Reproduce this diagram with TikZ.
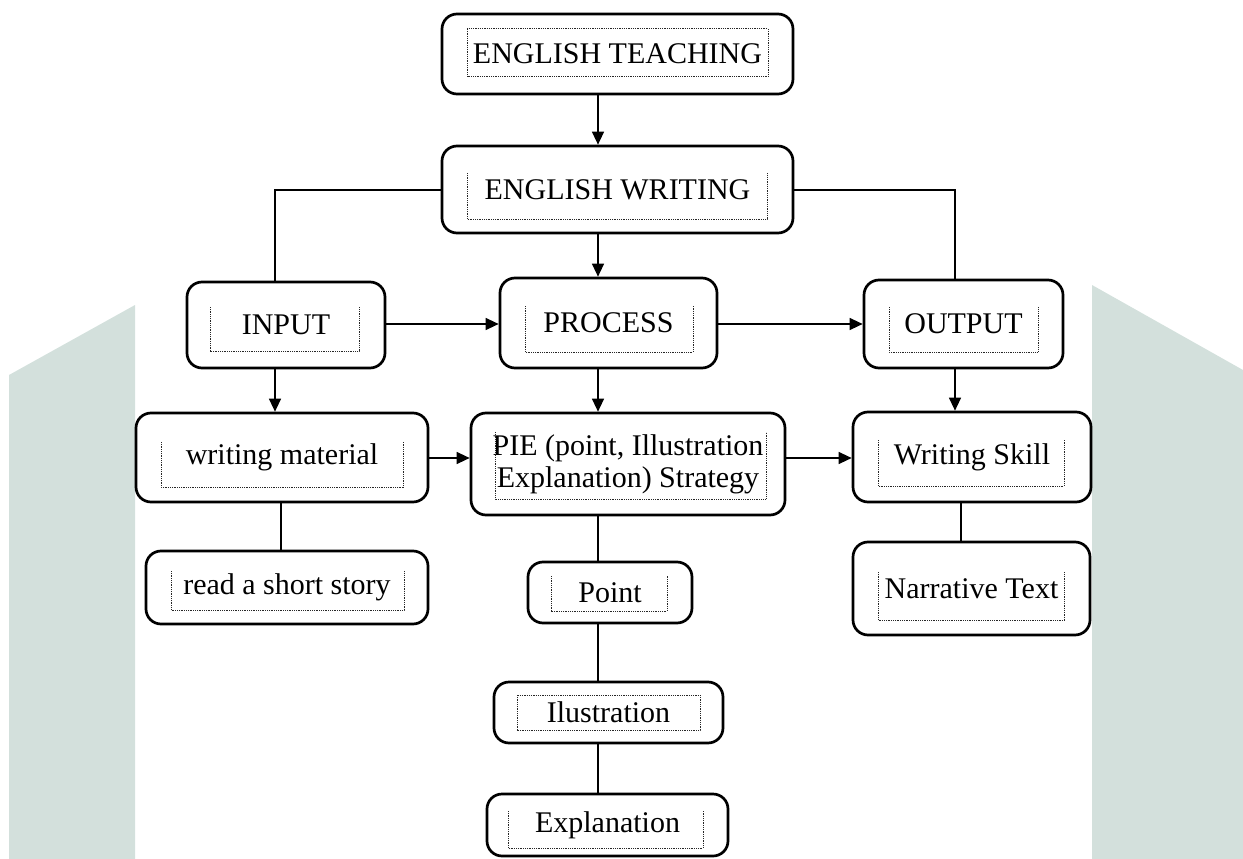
\documentclass[tikz,border=0pt]{standalone}
\usepackage{fontspec}
\setmainfont{Liberation Serif}
\usetikzlibrary{arrows.meta}
\definecolor{bgteal}{RGB}{211,224,220}
\begin{document}
\begin{tikzpicture}[x=1pt,y=-1pt,
  box/.style={draw, line width=2.7pt, rounded corners=15pt, fill=white, inner sep=0pt,
    font=\fontsize{30}{32}\selectfont, align=center},
  conn/.style={line width=1.3pt},
  arr/.style={conn, -{Triangle[length=13pt,width=12pt]}},
  dotbox/.style={line width=1pt, dash pattern=on 1pt off 0.8pt, black!85}
]
\useasboundingbox (0,0) rectangle (1243,859);
% background shapes
\fill[bgteal] (9,375) -- (135,305) -- (135,859) -- (9,859) -- cycle;
\fill[bgteal] (1092,285) -- (1243,370) -- (1243,859) -- (1092,859) -- cycle;

% helper coordinates
\coordinate (xm) at (598,0);
\coordinate (xl) at (275,0);
\coordinate (xr) at (955,0);
\coordinate (xwm) at (281,0);
\coordinate (xws) at (961,0);
\coordinate (yw) at (0,190);
\coordinate (yr1) at (0,324);
\coordinate (yr2) at (0,458);

% boxes
\node[box, minimum width=351pt, minimum height=80pt] (teach) at (617.5,54) {ENGLISH TEACHING};
\node[box, minimum width=351pt, minimum height=87pt] (writ) at (617.5,189.5) {ENGLISH WRITING};
\node[box, minimum width=198pt, minimum height=86pt] (input) at (286,325) {INPUT};
\node[box, minimum width=217pt, minimum height=90pt] (process) at (608.5,323) {PROCESS};
\node[box, minimum width=199pt, minimum height=88pt] (output) at (963.5,324) {OUTPUT};
\node[box, minimum width=292pt, minimum height=89pt] (wmat) at (282,457.5) {writing material};
\node[box, minimum width=314pt, minimum height=102pt] (pie) at (628,464) {PIE (point, Illustration\\Explanation) Strategy};
\node[box, minimum width=238pt, minimum height=90pt] (wskill) at (972,457) {Writing Skill};
\node[box, minimum width=282pt, minimum height=73pt] (story) at (287,587.5) {read a short story};
\node[box, minimum width=164pt, minimum height=61pt] (point) at (610,592.5) {Point};
\node[box, minimum width=229pt, minimum height=61pt] (ilus) at (608.5,712.5) {Ilustration};
\node[box, minimum width=241pt, minimum height=62pt] (expl) at (607.5,825) {Explanation};
\node[box, minimum width=237pt, minimum height=93pt] (narr) at (971.5,588.5) {Narrative Text};

% dotted inner frames
\draw[dotbox] (467,29) rectangle (768,77);
\draw[dotbox] (467,173) -- (467,219) -- (767,219) -- (767,173);
\draw[dotbox] (210,307) -- (210,351) -- (359,351) -- (359,307);
\draw[dotbox] (525,306) -- (525,352) -- (693,352) -- (693,306);
\draw[dotbox] (889,307) -- (889,352) -- (1038,352) -- (1038,307);
\draw[dotbox] (161,442) -- (161,487) -- (403,487) -- (403,442);
\draw[dotbox] (495,432) -- (495,499) -- (766,499) -- (766,432);
\draw[dotbox] (878,440) -- (878,486) -- (1064,486) -- (1064,440);
\draw[dotbox] (878,572) -- (878,620) -- (1064,620) -- (1064,572);
\draw[dotbox] (171,571) -- (171,610) -- (404,610) -- (404,571);
\draw[dotbox] (551,576) -- (551,611) -- (667,611) -- (667,576);
\draw[dotbox] (517,695) rectangle (700,730);
\draw[dotbox] (508,811) -- (508,848) -- (703,848) -- (703,811);

% connectors
\draw[arr] (teach.south -| xm) -- (writ.north -| xm);
\draw[arr] (writ.south -| xm) -- (process.north -| xm);
\draw[conn] (writ.west |- yw) -| (input.north -| xl);
\draw[conn] (writ.east |- yw) -| (output.north -| xr);
\draw[arr] (input.east |- yr1) -- (process.west |- yr1);
\draw[arr] (process.east |- yr1) -- (output.west |- yr1);
\draw[arr] (input.south -| xl) -- (wmat.north -| xl);
\draw[arr] (process.south -| xm) -- (pie.north -| xm);
\draw[arr] (output.south -| xr) -- (wskill.north -| xr);
\draw[arr] (wmat.east |- yr2) -- (pie.west |- yr2);
\draw[arr] (pie.east |- yr2) -- (wskill.west |- yr2);
\draw[conn] (wmat.south -| xwm) -- (story.north -| xwm);
\draw[conn] (pie.south -| xm) -- (point.north -| xm);
\draw[conn] (point.south -| xm) -- (ilus.north -| xm);
\draw[conn] (ilus.south -| xm) -- (expl.north -| xm);
\draw[conn] (wskill.south -| xws) -- (narr.north -| xws);
\end{tikzpicture}
\end{document}
